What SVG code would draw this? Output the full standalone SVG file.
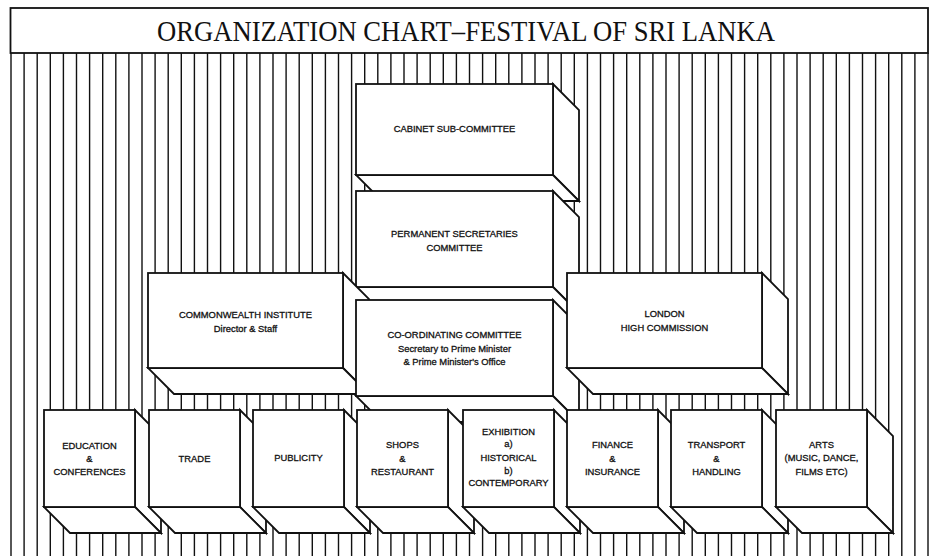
<svg xmlns="http://www.w3.org/2000/svg" width="931" height="556" viewBox="0 0 931 556">
<style>
.stripe{stroke:#111;stroke-width:1.4;fill:none}
.face{fill:#fff;stroke:#111;stroke-width:1.8;stroke-linejoin:miter}
.t{font-family:"Liberation Sans",Arial,sans-serif;font-size:9.4px;fill:#111;stroke:#111;stroke-width:0.3;text-anchor:middle}
.title{font-family:"Liberation Serif","Times New Roman",serif;font-size:29px;fill:#111;text-anchor:middle}
</style>
<rect x="0" y="0" width="931" height="556" fill="#fff"/>
<g id="background-stripes">
<path class="stripe" d="M11 53V556M24.1 53V556M37.2 53V556M50.3 53V556M63.4 53V556M76.5 53V556M89.6 53V556M102.7 53V556M115.8 53V556M128.9 53V556M142 53V556M155.1 53V556M168.2 53V556M181.3 53V556M194.4 53V556M207.5 53V556M220.6 53V556M233.7 53V556M246.8 53V556M259.9 53V556M273 53V556M286.1 53V556M299.2 53V556M312.3 53V556M325.4 53V556M338.5 53V556M351.6 53V556M364.7 53V556M377.8 53V556M390.9 53V556M404 53V556M417.1 53V556M430.2 53V556M443.3 53V556M456.4 53V556M469.5 53V556M482.6 53V556M495.7 53V556M508.8 53V556M521.9 53V556M535 53V556M548.1 53V556M561.2 53V556M574.3 53V556M587.4 53V556M600.5 53V556M613.6 53V556M626.7 53V556M639.8 53V556M652.9 53V556M666 53V556M679.1 53V556M692.2 53V556M705.3 53V556M718.4 53V556M731.5 53V556M744.6 53V556M757.7 53V556M770.8 53V556M783.9 53V556M797 53V556M810.1 53V556M823.2 53V556M836.3 53V556M849.4 53V556M862.5 53V556M875.6 53V556M888.7 53V556M901.8 53V556M914.9 53V556M928 53V556"/>
</g>
<g id="title">
<rect class="face" x="10.5" y="8" width="917.5" height="45"/>
<text class="title" x="466" y="41" textLength="618" lengthAdjust="spacingAndGlyphs">ORGANIZATION CHART–FESTIVAL OF SRI LANKA</text>
</g>
<g id="connectors"></g>
<g id="cabinet-sub-committee">
<polygon class="face" points="553,84 579,110 579,201 553,175"/>
<polygon class="face" points="356,175 553,175 579,201 382,201"/>
<rect class="face" x="356" y="84" width="197" height="91"/>
<text class="t" x="454.5" y="132">CABINET SUB-COMMITTEE</text>
</g>
<g id="permanent-secretaries-committee">
<polygon class="face" points="553,191 579,217 579,313 553,287"/>
<polygon class="face" points="356,287 553,287 579,313 382,313"/>
<rect class="face" x="356" y="191" width="197" height="96"/>
<text class="t" x="454.5" y="236.5">PERMANENT SECRETARIES</text>
<text class="t" x="454.5" y="250.5">COMMITTEE</text>
</g>
<g id="commonwealth-institute">
<polygon class="face" points="343,273 369,299 369,394 343,368"/>
<polygon class="face" points="148,368 343,368 369,394 174,394"/>
<rect class="face" x="148" y="273" width="195" height="95"/>
<text class="t" x="245.5" y="317.5">COMMONWEALTH INSTITUTE</text>
<text class="t" x="245.5" y="331.5">Director &amp; Staff</text>
</g>
<g id="co-ordinating-committee">
<polygon class="face" points="553,300 579,326 579,422 553,396"/>
<polygon class="face" points="356,396 553,396 579,422 382,422"/>
<rect class="face" x="356" y="300" width="197" height="96"/>
<text class="t" x="454.5" y="337.5">CO-ORDINATING COMMITTEE</text>
<text class="t" x="454.5" y="351.5">Secretary to Prime Minister</text>
<text class="t" x="454.5" y="365">&amp; Prime Minister's Office</text>
</g>
<g id="london-high-commission">
<polygon class="face" points="762,273 788,299 788,394 762,368"/>
<polygon class="face" points="567,368 762,368 788,394 593,394"/>
<rect class="face" x="567" y="273" width="195" height="95"/>
<text class="t" x="664.5" y="316.5">LONDON</text>
<text class="t" x="664.5" y="330.5">HIGH COMMISSION</text>
</g>
<g id="education-conferences">
<polygon class="face" points="135,410 161,436 161,533 135,507"/>
<polygon class="face" points="44,507 135,507 161,533 70,533"/>
<rect class="face" x="44" y="410" width="91" height="97"/>
<text class="t" x="89.5" y="448.5">EDUCATION</text>
<text class="t" x="89.5" y="461.5">&amp;</text>
<text class="t" x="89.5" y="474.5">CONFERENCES</text>
</g>
<g id="trade">
<polygon class="face" points="240,410 266,436 266,533 240,507"/>
<polygon class="face" points="149,507 240,507 266,533 175,533"/>
<rect class="face" x="149" y="410" width="91" height="97"/>
<text class="t" x="194.5" y="461.5">TRADE</text>
</g>
<g id="publicity">
<polygon class="face" points="344,410 370,436 370,533 344,507"/>
<polygon class="face" points="253,507 344,507 370,533 279,533"/>
<rect class="face" x="253" y="410" width="91" height="97"/>
<text class="t" x="298.5" y="461">PUBLICITY</text>
</g>
<g id="shops-restaurant">
<polygon class="face" points="448,410 474,436 474,533 448,507"/>
<polygon class="face" points="357,507 448,507 474,533 383,533"/>
<rect class="face" x="357" y="410" width="91" height="97"/>
<text class="t" x="402.5" y="448">SHOPS</text>
<text class="t" x="402.5" y="461.5">&amp;</text>
<text class="t" x="402.5" y="474.5">RESTAURANT</text>
</g>
<g id="exhibition">
<polygon class="face" points="554,410 580,436 580,533 554,507"/>
<polygon class="face" points="463,507 554,507 580,533 489,533"/>
<rect class="face" x="463" y="410" width="91" height="97"/>
<text class="t" x="508.5" y="434.5">EXHIBITION</text>
<text class="t" x="508.5" y="447">a)</text>
<text class="t" x="508.5" y="460.5">HISTORICAL</text>
<text class="t" x="508.5" y="473.5">b)</text>
<text class="t" x="508.5" y="486">CONTEMPORARY</text>
</g>
<g id="finance-insurance">
<polygon class="face" points="658,410 684,436 684,533 658,507"/>
<polygon class="face" points="567,507 658,507 684,533 593,533"/>
<rect class="face" x="567" y="410" width="91" height="97"/>
<text class="t" x="612.5" y="448">FINANCE</text>
<text class="t" x="612.5" y="461.5">&amp;</text>
<text class="t" x="612.5" y="474.5">INSURANCE</text>
</g>
<g id="transport-handling">
<polygon class="face" points="762,410 788,436 788,533 762,507"/>
<polygon class="face" points="671,507 762,507 788,533 697,533"/>
<rect class="face" x="671" y="410" width="91" height="97"/>
<text class="t" x="716.5" y="448">TRANSPORT</text>
<text class="t" x="716.5" y="461.5">&amp;</text>
<text class="t" x="716.5" y="474.5">HANDLING</text>
</g>
<g id="arts">
<polygon class="face" points="867,410 893,436 893,533 867,507"/>
<polygon class="face" points="776,507 867,507 893,533 802,533"/>
<rect class="face" x="776" y="410" width="91" height="97"/>
<text class="t" x="821.5" y="448">ARTS</text>
<text class="t" x="821.5" y="461">(MUSIC, DANCE,</text>
<text class="t" x="821.5" y="474.5">FILMS ETC)</text>
</g>
</svg>
